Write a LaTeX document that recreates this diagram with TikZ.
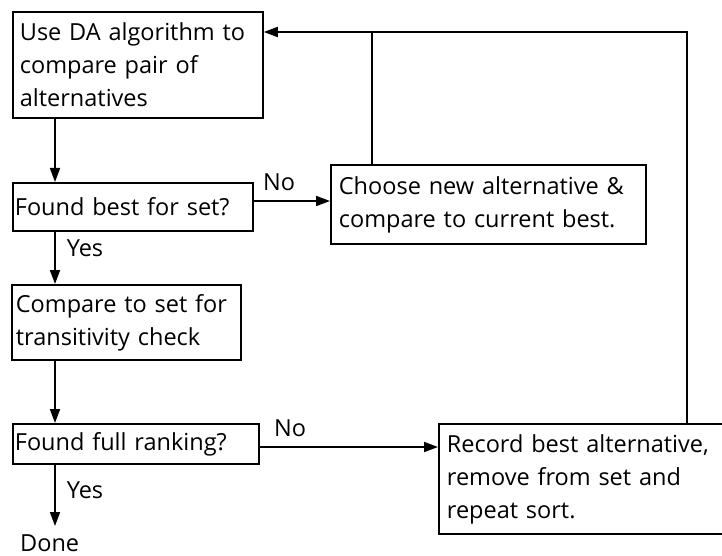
\documentclass[tikz,border=0pt]{standalone}
\usepackage{fontspec}
\setmainfont{Open Sans}
\usetikzlibrary{arrows.meta,calc}
\begin{document}
\begin{tikzpicture}[x=1pt,y=-1pt,
  every node/.style={font=\fontsize{23.5}{33}\selectfont},
  box/.style={draw, line width=1.8pt, rectangle, anchor=north west, inner xsep=#1, inner ysep=0pt, align=left},
  box/.default=6pt,
  lbl/.style={inner sep=0pt},
  conn/.style={line width=1.8pt},
  arr/.style={conn, -{Triangle[length=14pt,width=10pt]}}]
\useasboundingbox (0,0) rectangle (722,556);
% boxes
\node[box=7pt, minimum width=250pt, minimum height=106pt, text width=236pt] (b1) at (12,11) {Use DA algorithm to\\compare pair of\\alternatives};
\node[box=2pt, minimum width=240pt, minimum height=48pt, text width=236pt] (fb) at (12,182) {Found best for set?};
\node[box=8pt, minimum width=315pt, minimum height=79pt, text width=299pt] (ch) at (330,164) {Choose new alternative \&\\compare to current best.};
\node[box=4pt, minimum width=229pt, minimum height=75pt, text width=221pt] (cmp) at (11,284) {Compare to set for\\transitivity check};
\node[box=2pt, minimum width=246pt, minimum height=40pt, text width=242pt] (ff) at (12,423) {Found full ranking?};
\node[box=8pt, minimum width=300pt, minimum height=110pt, text width=284pt] (rec) at (438,423) {Record best alternative,\\remove from set and\\repeat sort.};
\node[lbl, anchor=base west] (done) at (20,551) {Done};
% labels
\node[lbl] (no1) at (279,182) {No};
\node[lbl] (no2) at (290,428) {No};
\node[lbl] (yes1) at (85,248) {Yes};
\node[lbl] (yes2) at (85,490) {Yes};
% guide coordinates
\coordinate (cx) at (55,0);
\coordinate (ty) at (0,32);
\coordinate (vx1) at (372,0);
\coordinate (vx2) at (687,0);
\coordinate (ny1) at (0,201);
\coordinate (ny2) at (0,447);
% connectors
\draw[arr] (b1.south -| cx) -- (fb.north -| cx);
\draw[arr] (fb.south -| cx) -- (cmp.north -| cx);
\draw[arr] (cmp.south -| cx) -- (ff.north -| cx);
\draw[arr] (ff.south -| cx) -- (cx |- 0,526);
\draw[arr] (fb.east |- ny1) -- (ch.west |- ny1);
\draw[arr] (ff.east |- ny2) -- (rec.west |- ny2);
\draw[conn] (ch.north -| vx1) -- (vx1 |- ty);
\draw[arr] (rec.north -| vx2) -- (vx2 |- ty) -- (b1.east |- ty);
\end{tikzpicture}
\end{document}
